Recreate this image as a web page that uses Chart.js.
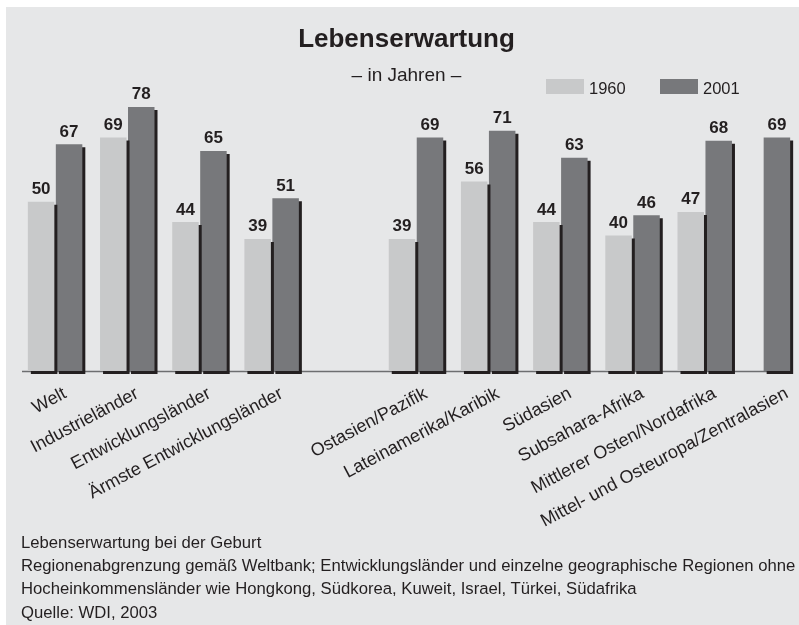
<!DOCTYPE html>
<html>
<head>
<meta charset="utf-8">
<script src="https://cdn.jsdelivr.net/npm/chart.js@4.4.1/dist/chart.umd.min.js"></script>
<style>
html,body{margin:0;padding:0;background:#fff;overflow:hidden;width:799px;height:625px}
#panel{position:absolute;left:6px;top:7px;width:793px;height:618px;background:#e6e7e8}
#c{position:absolute;left:0;top:0}
.note{position:absolute;left:21px;font-family:"Liberation Sans",Arial,sans-serif;font-size:16.7px;line-height:1;color:#231f20;white-space:nowrap}
</style>
</head>
<body>
<div id="panel"></div>
<canvas id="c" width="813" height="625"></canvas>
<div class="note" style="top:535px">Lebenserwartung bei der Geburt</div>
<div class="note" style="top:558px">Regionenabgrenzung gemäß Weltbank; Entwicklungsländer und einzelne geographische Regionen ohne</div>
<div class="note" style="top:581px">Hocheinkommensländer wie Hongkong, Südkorea, Kuweit, Israel, Türkei, Südafrika</div>
<div class="note" style="top:605px">Quelle: WDI, 2003</div>
<script>
var categories = ['Welt', 'Industrieländer', 'Entwicklungsländer', 'Ärmste Entwicklungsländer', '',
    'Ostasien/Pazifik', 'Lateinamerika/Karibik', 'Südasien', 'Subsahara-Afrika',
    'Mittlerer Osten/Nordafrika', 'Mittel- und Osteuropa/Zentralasien'];
var values1960 = [50, 69, 44, 39, null, 39, 56, 44, 40, 47, null];
var values2001 = [67, 78, 65, 51, null, 69, 71, 63, 46, 68, 69];
var seriesNames = ['1960', '2001'];

var FONT = '"Liberation Sans", Arial, Helvetica, sans-serif';
var INK = '#231f20';

// shadow under the bars, value labels, base line and legend
var decor = {
    id: 'decor',
    beforeDatasetsDraw: function (chart) {
        var ctx = chart.ctx, a = chart.chartArea, x = chart.scales.x;
        ctx.save();
        ctx.strokeStyle = '#6d6e70';
        ctx.lineWidth = 1.5;
        ctx.beginPath();
        ctx.moveTo(a.left + 3, a.bottom + 0.5);
        ctx.lineTo(x.getPixelForValue(categories.length - 1) + 10, a.bottom + 0.5);
        ctx.stroke();
        ctx.restore();

        ctx.save();
        ctx.shadowColor = INK;
        ctx.shadowOffsetX = 3;
        ctx.shadowOffsetY = 3;
        ctx.shadowBlur = 0;
    },
    afterDatasetsDraw: function (chart) {
        var ctx = chart.ctx;
        ctx.restore();

        ctx.save();
        ctx.fillStyle = INK;
        ctx.font = 'bold 17px ' + FONT;
        ctx.textAlign = 'center';
        ctx.textBaseline = 'alphabetic';
        chart.data.datasets.forEach(function (ds, i) {
            chart.getDatasetMeta(i).data.forEach(function (bar, j) {
                if (ds.data[j] == null) return;
                ctx.fillText(ds.data[j], bar.x, bar.y - 7.5);
            });
        });

        // legend
        ctx.font = '16.5px ' + FONT;
        ctx.textAlign = 'left';
        chart.data.datasets.forEach(function (ds, i) {
            var lx = 546 + i * 114;
            ctx.fillStyle = ds.backgroundColor;
            ctx.fillRect(lx, 79, 38, 15);
            ctx.fillStyle = INK;
            ctx.fillText(ds.label, lx + 43, 93.5);
        });
        ctx.restore();
    }
};

var chart = new Chart(document.getElementById('c'), {
    type: 'bar',
    data: {
        labels: categories,
        datasets: [
            {
                label: seriesNames[0],
                data: values1960,
                backgroundColor: '#c8c9ca'
            },
            {
                label: seriesNames[1],
                data: values2001,
                backgroundColor: '#77787b'
            }
        ]
    },
    options: {
        responsive: false,
        animation: false,
        devicePixelRatio: 1,
        layout: { padding: 0 },
        datasets: {
            bar: {
                categoryPercentage: 0.775,
                barPercentage: 0.95,
                maxBarThickness: 26.5,
                skipNull: true,
                clip: false,
                borderWidth: 0
            }
        },
        plugins: {
            legend: { display: false },
            tooltip: { enabled: false },
            title: {
                display: true,
                text: 'Lebenserwartung',
                color: INK,
                font: { family: FONT, size: 26, weight: 'bold' },
                padding: { top: 24, bottom: 9.6 }
            },
            subtitle: {
                display: true,
                text: '– in Jahren –',
                color: INK,
                font: { family: FONT, size: 19 },
                padding: { top: 0, bottom: 12.6 }
            }
        },
        scales: {
            x: {
                grid: { display: false, drawTicks: false },
                border: { display: false },
                ticks: {
                    autoSkip: false,
                    minRotation: 28,
                    maxRotation: 28,
                    labelOffset: 10,
                    padding: 12,
                    color: INK,
                    font: { family: FONT, size: 18 }
                },
                afterFit: function (s) { s.height = 625 - 371; }
            },
            y: {
                min: 0,
                max: 80,
                grid: { display: false, drawTicks: false },
                border: { display: false },
                ticks: { display: false },
                afterFit: function (s) { s.width = 19; }
            }
        }
    },
    plugins: [decor]
});
</script>
</body>
</html>
